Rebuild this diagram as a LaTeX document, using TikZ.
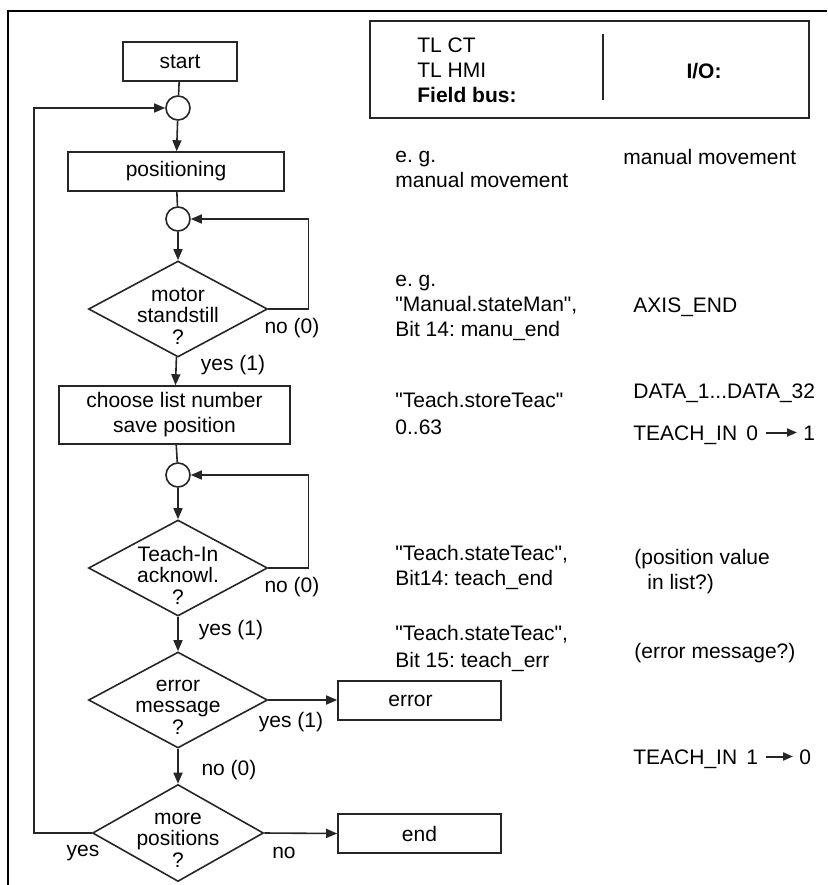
\documentclass[tikz,border=0pt]{standalone}
\usepackage{fontspec}
\setmainfont{Liberation Sans}[Ligatures=TeXOff]
\usetikzlibrary{positioning, arrows.meta, shapes.geometric}
\frenchspacing

\tikzset{
  every node/.style={font=\fontsize{10.5}{12.5}\selectfont},
  procbox/.style={draw=black!85, line width=0.8pt, rectangle, inner sep=0pt, minimum height=19.5pt},
  decision/.style={draw=black!85, line width=0.8pt, diamond, inner sep=0pt,
    minimum width=89.5pt, minimum height=48pt},
  dtext/.style={align=center, inner sep=0pt, font=\fontsize{10.5}{10.75}\selectfont},
  junction/.style={draw=black!85, line width=0.8pt, circle, inner sep=0pt, minimum size=12pt},
  flow/.style={draw=black!85, line width=0.8pt, -{Triangle[length=5.5pt, width=4.5pt]}},
  smallflow/.style={draw=black!85, line width=1pt, -{Triangle[length=5pt, width=4pt]}},
  link/.style={draw=black!85, line width=0.8pt},
  lbl/.style={inner sep=0pt},
  note/.style={align=left, anchor=west, inner sep=0pt},
}

\begin{document}
\begin{tikzpicture}[x=0.5pt, y=-0.5pt]
\useasboundingbox (0,0) rectangle (827,885);

% --- Page frame ---
\draw[line width=0.8pt] (827,11) -- (8,11) -- (8,885);

% --- Header box ---
\draw[link] (370,21) rectangle (809,118);
\draw[link] (603,34) -- (603,100);
\node[note] (hdrL) at (417,70) {TL CT\\TL HMI\\\textbf{Field bus:}};
\node[lbl] (hdrR) at (704,71) {\textbf{I/O:}};

% --- Flow chart ---
\node[procbox, minimum width=57pt] (start) at (180,61.5) {start};
\node[junction] (j1) at (178,108) {};
\node[procbox, minimum width=108pt] (pos) at (176,171.5) {positioning};
\node[junction] (j2) at (178,219) {};
\node[decision] (d1) at (178,309) {};
\node[dtext] at ([shift={(0,7)}]d1.center) {motor\\standstill\\?};
\node[procbox, minimum width=115.5pt, minimum height=29pt, align=center] (choose) at (174.5,415)
  {choose list number\\save position};
\node[junction] (j3) at (178,475) {};
\node[decision] (d2) at (178,568) {};
\node[dtext] at ([shift={(0,7)}]d2.center) {Teach-In\\acknowl.\\?};
\node[decision] (d3) at (178,700) {};
\node[dtext] at ([shift={(0,7)}]d3.center) {error\\message\\?};
\node[decision, minimum width=85.5pt, minimum height=48.5pt] (d4) at (178,833) {};
\node[dtext] at ([shift={(0,7)}]d4.center) {more\\positions\\?};
\node[procbox, minimum width=81.5pt] (err) at (419.5,700.5) {error\hspace*{9pt}};
\node[procbox, minimum width=81.5pt] (fin) at (419.5,833.5) {end};

% --- Connectors ---
\draw[link] (start) -- (j1);
\draw[flow] (j1) -- (pos);
\draw[link] (pos) -- (j2);
\draw[flow] (j2) -- (d1);
\draw[flow] (d1.east) -- ++(40,0) |- (j2.east);
\draw[flow] (d1) -- (choose);
\draw[link] (choose) -- (j3);
\draw[flow] (j3) -- (d2);
\draw[flow] (d2.east) -- ++(40,0) |- (j3.east);
\draw[flow] (d2) -- (d3);
\draw[flow] (d3.east) -- (d3.east -| err.west);
\draw[flow] (d3) -- (d4);
\draw[flow] (d4.east) -- (fin.west);
\draw[flow] (d4.west) -- ++(-58,0) |- (j1.west);

% --- Branch labels ---
\node[lbl] at (292,328) {no (0)};
\node[lbl] at (233,365) {yes (1)};
\node[lbl] at (292,587) {no (0)};
\node[lbl] at (231,630) {yes (1)};
\node[lbl] at (291,722) {yes (1)};
\node[lbl] at (229,770) {no (0)};
\node[lbl] at (83,853) {yes};
\node[lbl] at (284,853) {no};

% --- Field bus column ---
\node[note] (fb1) at (395,169.5) {e. g.\\manual movement};
\node[note] (fb2) at (395,308) {e. g.\\"Manual.stateMan",\\Bit 14: manu\_end};
\node[note] (fb3) at (395,413.5) {"Teach.storeTeac"\\[1pt]0..63};
\node[note] (fb4) at (395,567.5) {"Teach.stateTeac",\\Bit14: teach\_end};
\node[note] (fb5) at (395,648.5) {"Teach.stateTeac",\\[1pt]Bit 15: teach\_err};

% --- I/O column ---
\node[note] (io1) at (623,157) {manual movement};
\node[note] (io2) at (633,307) {AXIS\_END};
\node[note] (io3) at (633,393) {DATA\_1...DATA\_32};
\node[note] (io4) at (634,571.5) {(position value\\\hspace*{6.5pt}in list?)};
\node[note] (io5) at (634,653) {(error message?)};

% TEACH_IN transitions
\node[lbl, anchor=base west] (ti1) at (633,440) {TEACH\_IN};
\node[lbl, anchor=base west] (ti1a) at (746,440) {0};
\node[lbl, anchor=base west] (ti1b) at (803,440) {1};
\draw[smallflow] ([shift={(8,-7.5)}]ti1a.base east) -- ([shift={(-6,-7.5)}]ti1b.base west);
\node[lbl, anchor=base west] (ti2) at (633,764) {TEACH\_IN};
\node[lbl, anchor=base west] (ti2a) at (746,764) {1};
\node[lbl, anchor=base west] (ti2b) at (799,764) {0};
\draw[smallflow] ([shift={(8,-7.5)}]ti2a.base east) -- ([shift={(-6,-7.5)}]ti2b.base west);

\end{tikzpicture}
\end{document}
